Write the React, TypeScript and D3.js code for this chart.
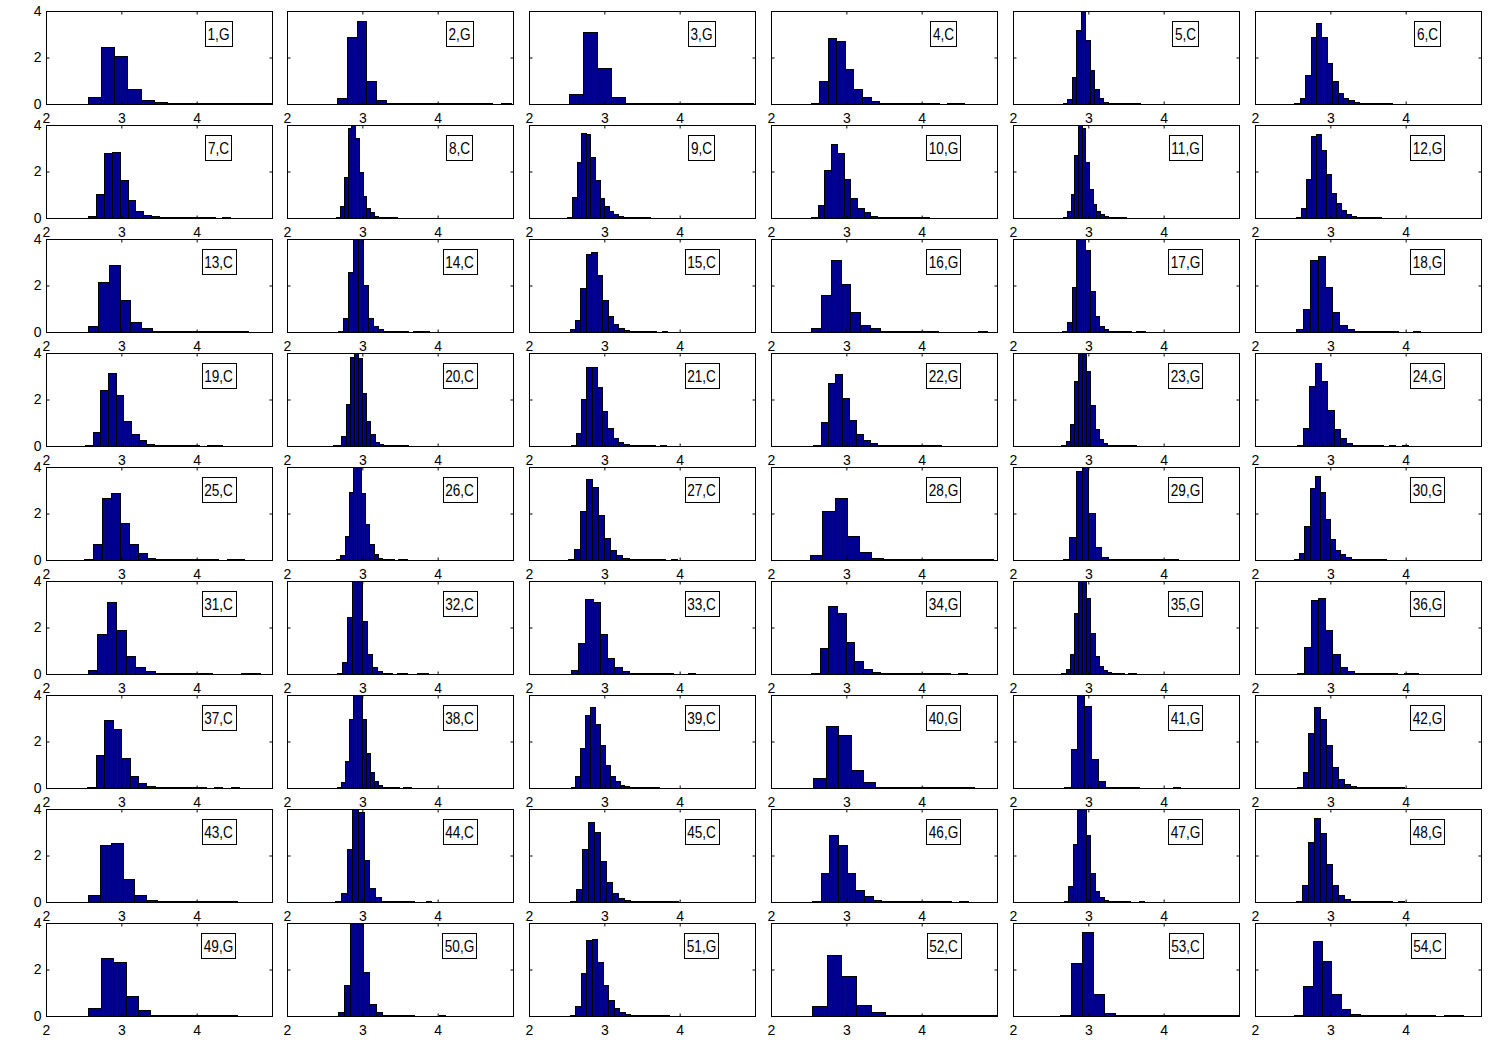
import React, { useRef, useEffect } from 'react';
import * as d3 from 'd3';

// panel titles, read left-to-right, top-to-bottom
const panelLabels = [
  '1,G', '2,G', '3,G', '4,C', '5,C', '6,C',
  '7,C', '8,C', '9,C', '10,G', '11,G', '12,G',
  '13,C', '14,C', '15,C', '16,G', '17,G', '18,G',
  '19,C', '20,C', '21,C', '22,G', '23,G', '24,G',
  '25,C', '26,C', '27,C', '28,G', '29,G', '30,G',
  '31,C', '32,C', '33,C', '34,G', '35,G', '36,G',
  '37,C', '38,C', '39,C', '40,G', '41,G', '42,G',
  '43,C', '44,C', '45,C', '46,G', '47,G', '48,G',
  '49,G', '50,G', '51,G', '52,C', '53,C', '54,C',
];

// left edge of the first bin in each panel
const binStarts = [
  2.553, 2.67, 2.527, 2.53, 2.66, 2.521,
  2.557, 2.655, 2.51, 2.533, 2.667, 2.539,
  2.552, 2.673, 2.539, 2.533, 2.655, 2.539,
  2.521, 2.612, 2.552, 2.564, 2.642, 2.552,
  2.509, 2.655, 2.521, 2.521, 2.66, 2.521,
  2.552, 2.66, 2.552, 2.533, 2.642, 2.552,
  2.55, 2.66, 2.552, 2.564, 2.673, 2.552,
  2.564, 2.642, 2.539, 2.545, 2.673, 2.539,
  2.564, 2.673, 2.539, 2.545, 2.63, 2.515,
];

// bin width of each panel
const binWidths = [
  0.176, 0.128, 0.188, 0.113, 0.06, 0.072,
  0.105, 0.05, 0.061, 0.087, 0.049, 0.067,
  0.142, 0.067, 0.072, 0.13, 0.061, 0.097,
  0.101, 0.055, 0.07, 0.094, 0.055, 0.082,
  0.118, 0.055, 0.08, 0.162, 0.085, 0.068,
  0.127, 0.067, 0.097, 0.115, 0.055, 0.095,
  0.112, 0.055, 0.065, 0.164, 0.091, 0.079,
  0.152, 0.075, 0.08, 0.115, 0.059, 0.08,
  0.164, 0.084, 0.073, 0.194, 0.145, 0.125,
];

// normalised counts per bin
const densities = [
  [0.3, 2.44, 2.05, 0.64, 0.18, 0.08, 0.03, 0.03, 0.03, 0.03, 0.03, 0.03, 0.03, 0.03],
  [0.24, 2.87, 3.59, 0.99, 0.18, 0.03, 0.03, 0.03, 0.03, 0.03, 0.03, 0.03, 0.03, 0.03, 0.03, 0.03, 0, 0.03],
  [0.45, 3.09, 1.55, 0.28, 0.03, 0.03, 0.03, 0.03, 0.03, 0.03, 0.03, 0.03, 0.03],
  [0.03, 0.99, 2.84, 2.7, 1.52, 0.64, 0.28, 0.11, 0.03, 0.03, 0.03, 0.03, 0.03, 0.03, 0.03, 0, 0.04, 0.04],
  [0.04, 0.21, 1.18, 3.19, 4.3, 2.74, 1.46, 0.64, 0.26, 0.1, 0.03, 0.03, 0.03, 0.03, 0.03, 0.03, 0.03],
  [0.04, 0.26, 1.25, 2.88, 3.48, 2.88, 1.77, 0.99, 0.48, 0.26, 0.17, 0.08, 0.03, 0.03, 0.03, 0.03, 0.03, 0.03],
  [0.1, 1.04, 2.78, 2.82, 1.64, 0.78, 0.31, 0.14, 0.08, 0.04, 0.03, 0.03, 0.03, 0.03, 0.03, 0.03, 0, 0.04],
  [0.04, 0.52, 1.77, 3.86, 4.05, 3.43, 1.99, 0.95, 0.45, 0.24, 0.1, 0.04, 0.04, 0.04, 0.04, 0.04],
  [0.04, 0.91, 2.41, 3.65, 3.6, 2.62, 1.62, 0.88, 0.5, 0.28, 0.17, 0.08, 0.03, 0.03, 0.03, 0.03, 0.03, 0.03],
  [0.03, 0.57, 2.06, 3.18, 2.78, 1.69, 0.88, 0.41, 0.24, 0.1, 0.06, 0.03, 0.03, 0.03, 0.03, 0.03, 0.03, 0.03],
  [0.04, 0.28, 1.02, 2.72, 4.2, 3.86, 2.41, 1.23, 0.6, 0.31, 0.17, 0.07, 0.03, 0.03, 0.03, 0.03, 0.03],
  [0.03, 0.45, 1.69, 3.53, 3.6, 2.91, 1.91, 1.08, 0.64, 0.35, 0.17, 0.1, 0.03, 0.03, 0.03, 0.03, 0.03],
  [0.24, 2.15, 2.89, 1.38, 0.43, 0.16, 0.03, 0.03, 0.03, 0.03, 0.03, 0.03, 0.03, 0.03, 0.03],
  [0.03, 0.62, 2.57, 4.3, 4.2, 2.04, 0.62, 0.27, 0.13, 0.04, 0.04, 0.04, 0.04, 0.04, 0, 0.04, 0.04, 0.04],
  [0.11, 0.51, 1.9, 3.36, 3.42, 2.47, 1.38, 0.7, 0.34, 0.17, 0.09, 0.03, 0.03, 0.03, 0.03, 0.03, 0, 0.04],
  [0.16, 1.57, 3.08, 2.06, 0.84, 0.3, 0.16, 0.04, 0.04, 0.04, 0.04, 0.04, 0.04, 0, 0, 0, 0, 0.05],
  [0.03, 0.41, 1.94, 4.3, 4.5, 3.52, 1.77, 0.7, 0.27, 0.13, 0.04, 0.04, 0.04, 0.04, 0.04, 0, 0.04, 0.04],
  [0.11, 1.0, 3.08, 3.29, 1.93, 0.84, 0.3, 0.11, 0.03, 0.03, 0.03, 0.03, 0.03, 0.03, 0, 0, 0.04],
  [0.03, 0.61, 2.41, 3.12, 2.2, 1.09, 0.5, 0.24, 0.1, 0.03, 0.03, 0.03, 0.03, 0.03, 0.03, 0, 0.04, 0.04],
  [0.03, 0.03, 0.45, 1.82, 3.83, 4.2, 3.8, 2.3, 1.09, 0.5, 0.16, 0.1, 0.03, 0.03, 0.03, 0.03, 0.03, 0.03],
  [0.04, 0.57, 2.01, 3.4, 3.4, 2.52, 1.52, 0.78, 0.35, 0.18, 0.1, 0.03, 0.03, 0.03, 0.03, 0.03, 0, 0.04],
  [0.03, 1.03, 2.72, 3.09, 2.06, 1.1, 0.52, 0.24, 0.13, 0.03, 0.03, 0.03, 0.03, 0.03, 0.03, 0.03, 0.03, 0.03],
  [0.03, 0.2, 0.95, 2.79, 4.3, 4.2, 3.22, 1.77, 0.75, 0.3, 0.13, 0.03, 0.03, 0.03, 0.03, 0.03, 0.03, 0.03],
  [0.04, 0.78, 2.58, 3.55, 2.79, 1.56, 0.75, 0.33, 0.14, 0.03, 0.03, 0.03, 0.03, 0.03, 0, 0.04, 0, 0.04],
  [0.03, 0.7, 2.65, 2.87, 1.59, 0.67, 0.28, 0.1, 0.03, 0.03, 0.03, 0.03, 0.03, 0.03, 0.03, 0, 0.04, 0.04],
  [0.03, 0.2, 1.05, 2.91, 4.3, 4.2, 2.87, 1.56, 0.67, 0.24, 0.1, 0.03, 0.03, 0.03, 0, 0.04, 0.04],
  [0.04, 0.48, 2.11, 3.5, 3.15, 1.94, 0.95, 0.41, 0.2, 0.1, 0.03, 0.03, 0.03, 0.03, 0.03, 0.03, 0, 0.04],
  [0.2, 2.11, 2.65, 1.05, 0.34, 0.1, 0.03, 0.03, 0.03, 0.03, 0.03, 0.03, 0.03, 0.03, 0.03],
  [0.03, 0.99, 3.82, 4.1, 2.01, 0.57, 0.14, 0.03, 0.03, 0.03, 0.03, 0.03, 0.03, 0.03, 0.03, 0.03, 0.03, 0.03],
  [0.03, 0.31, 1.45, 3.08, 3.6, 2.91, 1.76, 0.91, 0.45, 0.24, 0.14, 0.03, 0.03, 0.03, 0.03, 0.03, 0.03, 0.03],
  [0.16, 1.73, 3.08, 1.9, 0.77, 0.3, 0.11, 0.04, 0.04, 0.04, 0.04, 0.04, 0.04, 0, 0, 0, 0.05, 0.05],
  [0.04, 0.52, 2.47, 4.4, 4.3, 2.28, 0.88, 0.3, 0.13, 0.04, 0.04, 0, 0.04, 0.04, 0, 0, 0.04, 0.04],
  [0.16, 1.33, 3.22, 3.08, 1.72, 0.7, 0.3, 0.11, 0.03, 0.03, 0.03, 0.03, 0.03, 0.03, 0, 0, 0.04],
  [0.04, 1.12, 2.92, 2.61, 1.38, 0.58, 0.2, 0.09, 0.03, 0.03, 0.03, 0.03, 0.03, 0.03, 0.03, 0.03, 0, 0.04],
  [0.03, 0.2, 0.87, 2.61, 4.2, 4.1, 3.26, 1.77, 0.77, 0.34, 0.16, 0.08, 0.03, 0.03, 0.03, 0, 0.04, 0.04],
  [0.04, 1.16, 3.18, 3.25, 1.9, 0.88, 0.3, 0.13, 0.03, 0.03, 0.03, 0.03, 0.03, 0.03, 0, 0.04, 0.04],
  [0.03, 1.4, 2.94, 2.52, 1.28, 0.52, 0.23, 0.1, 0.03, 0.03, 0.03, 0.03, 0.03, 0.03, 0, 0.04, 0, 0.04],
  [0.03, 0.26, 1.14, 2.95, 4.3, 4.2, 2.95, 1.49, 0.68, 0.28, 0.11, 0.03, 0.03, 0.03, 0.03, 0, 0.04, 0.04],
  [0.04, 0.5, 1.73, 3.16, 3.5, 2.76, 1.87, 0.99, 0.52, 0.28, 0.14, 0.08, 0.03, 0.03, 0.03, 0.03, 0.03, 0.03],
  [0.44, 2.65, 2.26, 0.78, 0.24, 0.03, 0.03, 0.03, 0.03, 0.03, 0.03, 0.03, 0.03],
  [0.04, 1.67, 4.3, 3.52, 1.25, 0.31, 0.03, 0.03, 0.03, 0.03, 0.03, 0, 0, 0, 0, 0, 0.04],
  [0.04, 0.67, 2.37, 3.5, 2.98, 1.87, 0.91, 0.4, 0.18, 0.08, 0.03, 0.03, 0.03, 0.03, 0.03, 0.03, 0.03, 0.03],
  [0.31, 2.44, 2.55, 0.99, 0.28, 0.1, 0.03, 0.03, 0.03, 0.03, 0.03, 0.03, 0.03],
  [0.03, 0.38, 2.27, 4.1, 3.89, 1.8, 0.6, 0.2, 0.03, 0.03, 0.03, 0.03, 0.03, 0.03, 0, 0, 0.04],
  [0.03, 0.57, 2.27, 3.46, 3.0, 1.76, 0.84, 0.37, 0.17, 0.1, 0.03, 0.03, 0.03, 0.03, 0.03, 0.03, 0.03, 0.03],
  [0.04, 1.26, 2.87, 2.44, 1.26, 0.52, 0.24, 0.1, 0.03, 0.03, 0.03, 0.03, 0.03, 0.03, 0.03, 0.03, 0, 0.04],
  [0.04, 0.67, 2.48, 4.3, 4.2, 2.87, 1.26, 0.48, 0.2, 0.1, 0.03, 0.03, 0.03, 0.03, 0.03, 0, 0, 0.04],
  [0.04, 0.74, 2.58, 3.6, 2.96, 1.63, 0.74, 0.28, 0.14, 0.03, 0.03, 0.03, 0.03, 0.03, 0.03, 0.03, 0, 0.04],
  [0.34, 2.5, 2.33, 0.84, 0.24, 0.03, 0.03, 0.03, 0.03, 0.03, 0.03, 0.03],
  [0.16, 1.33, 4.3, 4.2, 1.9, 0.52, 0.16, 0.03, 0.03, 0.03, 0.03, 0.03, 0, 0, 0, 0, 0.04],
  [0.04, 0.45, 1.86, 3.25, 3.32, 2.33, 1.33, 0.7, 0.34, 0.16, 0.1, 0.03, 0.03, 0.03, 0.03, 0.03, 0.03, 0.03],
  [0.41, 2.61, 1.72, 0.48, 0.16, 0.03, 0.03, 0.03, 0.03, 0.03, 0.03, 0.03, 0.03],
  [0.04, 2.29, 3.63, 0.93, 0.14, 0.03, 0.03, 0.03, 0.03, 0.03, 0.03, 0.03, 0.03, 0.03, 0.03, 0.03, 0.03],
  [0.04, 1.31, 3.23, 2.35, 0.93, 0.3, 0.1, 0.03, 0.03, 0.03, 0.03, 0.03, 0.03, 0.03, 0.03, 0, 0.04, 0.04],
];

const xTicks = [2, 3, 4];
const yTicks = [0, 2, 4];

const WIDTH = 1496;
const HEIGHT = 1047;
const NCOLS = 6;
const FONT = "'Liberation Sans', Arial, Helvetica, sans-serif";

const App: React.FC = () => {
  const svgRef = useRef<SVGSVGElement>(null);

  useEffect(() => {
    if (!svgRef.current) return;
    const svg = d3.select(svgRef.current);
    svg.selectAll('*').remove();

    const left0 = 45.5;
    const colPitch = 241.8;
    const top0 = 10.7;
    const rowPitch = 114;
    const panelW = 227;
    const panelH = 94;

    // half-pixel insets so the data edges line up with the 1px frame
    const xScale = d3.scaleLinear().domain([2, 5]).range([0.5, panelW - 0.5]);
    const yScale = d3.scaleLinear().domain([0, 4]).range([panelH - 0.5, 0.5]);

    svg
      .append('defs')
      .append('clipPath')
      .attr('id', 'panel-clip')
      .append('rect')
      .attr('width', panelW)
      .attr('height', panelH);

    panelLabels.forEach((label, i) => {
      const col = i % NCOLS;
      const row = Math.floor(i / NCOLS);
      const g = svg
        .append('g')
        .attr(
          'transform',
          `translate(${Math.round(left0 + col * colPitch)},${Math.round(top0 + row * rowPitch)})`
        );

      g.append('rect')
        .attr('width', panelW)
        .attr('height', panelH)
        .attr('fill', '#fff');

      // bars
      const bins = densities[i]
        .map((d, k) => ({
          x0: binStarts[i] + k * binWidths[i],
          x1: binStarts[i] + (k + 1) * binWidths[i],
          d,
        }))
        .filter((b) => b.d > 0);

      g.append('g')
        .attr('clip-path', 'url(#panel-clip)')
        .selectAll('rect')
        .data(bins)
        .enter()
        .append('rect')
        .attr('x', (b) => xScale(b.x0))
        .attr('width', (b) => xScale(b.x1) - xScale(b.x0))
        .attr('y', (b) => yScale(Math.min(b.d, 4.2)))
        .attr('height', (b) => yScale(0) - yScale(Math.min(b.d, 4.2)))
        .attr('fill', '#00008f')
        .attr('stroke', '#000')
        .attr('stroke-width', 1)
        .attr('shape-rendering', 'crispEdges');

      // axes: ticks inside on all four sides
      const styleAxis = (sel: any) => {
        sel.select('.domain').remove();
        sel.selectAll('line').attr('stroke', '#000');
        sel.selectAll('text')
          .attr('font-family', FONT)
          .attr('font-size', 14)
          .attr('fill', '#000');
      };

      g.append('g')
        .attr('transform', `translate(-0.5,${panelH - 0.5})`)
        .call(d3.axisBottom(xScale).tickValues(xTicks).tickSize(-3).tickPadding(9).tickFormat(d3.format('d')))
        .call(styleAxis);

      g.append('g')
        .attr('transform', 'translate(-0.5,0.5)')
        .call(d3.axisTop(xScale).tickValues(xTicks).tickSize(-3).tickFormat(() => ''))
        .call(styleAxis);

      g.append('g')
        .attr('transform', 'translate(0.5,-0.5)')
        .call(
          d3
            .axisLeft(yScale)
            .tickValues(yTicks)
            .tickSize(-3)
            .tickPadding(5)
            .tickFormat(col === 0 ? d3.format('d') : () => '')
        )
        .call(styleAxis);

      g.append('g')
        .attr('transform', `translate(${panelW - 0.5},-0.5)`)
        .call(d3.axisRight(yScale).tickValues(yTicks).tickSize(-3).tickFormat(() => ''))
        .call(styleAxis);

      // frame
      g.append('rect')
        .attr('x', 0.5)
        .attr('y', 0.5)
        .attr('width', panelW - 1)
        .attr('height', panelH - 1)
        .attr('fill', 'none')
        .attr('stroke', '#000')
        .attr('stroke-width', 1);

      // label box
      const boxG = g.append('g');
      const squeeze = 0.85;
      const textG = boxG.append('g').attr('transform', `translate(172.5,0) scale(${squeeze},1)`);
      const txt = textG
        .append('text')
        .attr('x', 0)
        .attr('y', 29.3)
        .attr('text-anchor', 'middle')
        .attr('font-family', FONT)
        .attr('font-size', 16)
        .attr('fill', '#000')
        .text(label);
      const tw = (txt.node() as SVGTextElement).getBBox().width * squeeze;
      boxG
        .insert('rect', ':first-child')
        .attr('x', Math.round(172.5 - tw / 2 - 2.5) + 0.5)
        .attr('y', 10.5)
        .attr('width', Math.round(tw + 5))
        .attr('height', 25)
        .attr('fill', '#fff')
        .attr('stroke', '#000')
        .attr('stroke-width', 1);
    });
  }, []);

  return (
    <svg
      ref={svgRef}
      width={WIDTH}
      height={HEIGHT}
      style={{ position: 'absolute', left: 0, top: 0, background: '#fff' }}
    />
  );
};

export default App;
